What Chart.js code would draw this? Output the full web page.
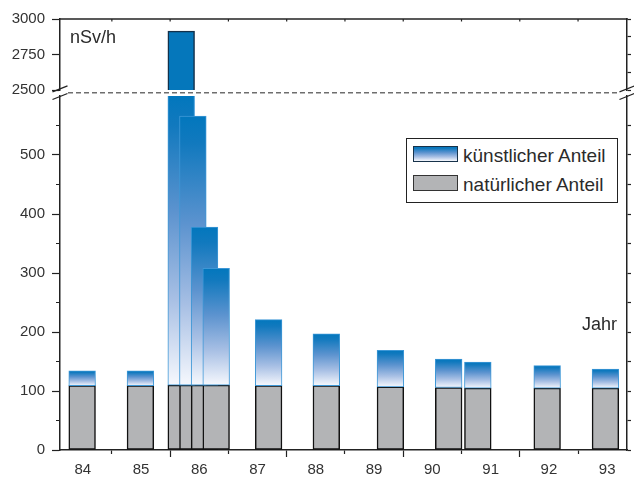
<!DOCTYPE html>
<html>
<head>
<meta charset="utf-8">
<script src="https://cdn.jsdelivr.net/npm/chart.js@4/dist/chart.umd.min.js"></script>
<style>
    html, body { margin: 0; padding: 0; background: #fff; }
    #wrap { position: relative; width: 634px; height: 477px; overflow: hidden;
            font-family: "Liberation Sans", Arial, sans-serif; color: #2b2b2b; }
    #wrap canvas { position: absolute; left: 0; }
    #topChart { top: 0; }
    #lowChart { top: 85px; }
    .note { position: absolute; font-size: 18px; line-height: 18px; white-space: nowrap; }
    #legend { position: absolute; left: 406px; top: 138px; width: 210px; height: 63px;
              border: 1.5px solid #222; background: #fff; }
    #legend .sw { position: absolute; left: 6px; width: 43px; height: 14px; }
    #legend .txt { position: absolute; left: 56px; font-size: 19px; line-height: 19px; white-space: nowrap; }
    .sw.blue { border: 1px solid #17324a;
               background: linear-gradient(#0277bd, #1179be 10%, #5c93cf 40%, #a7bfe4 70%, #f6f8fd); }
    .sw.grey { border: 1px solid #333; background: #b3b4b6; }
</style>
</head>
<body>
<div id="wrap">
    <canvas id="topChart" width="634" height="100"></canvas>
    <canvas id="lowChart" width="634" height="392"></canvas>
    <div class="note" style="left:70px; top:28px;">nSv/h</div>
    <div class="note" style="left:582px; top:315px;">Jahr</div>
    <div id="legend">
        <div class="sw blue" style="top:7px;"></div>
        <div class="txt" style="top:7px;">künstlicher Anteil</div>
        <div class="sw grey" style="top:36px;"></div>
        <div class="txt" style="top:36px;">natürlicher Anteil</div>
    </div>
</div>
<script>
// year labels on the x axis
var years = [84, 85, 86, 87, 88, 89, 90, 91, 92, 93];
// where each measurement sits along the time axis
var samplePos = [84.49, 85.49, 86.19, 86.39, 86.59, 86.79, 87.69, 88.68, 89.78, 90.78, 91.28, 92.47, 93.47];
// natural share and total dose rate (nSv/h)
var natural = [109, 109, 110, 110, 110, 110, 109, 109, 107, 106, 105, 105, 105];
var total = [134, 134, 2915, 566, 378, 308, 221, 197, 169, 154, 149, 143, 137];
// y ticks of the two axis parts
var lowTicks = [0, 50, 100, 150, 200, 250, 300, 350, 400, 450, 500, 550];
var highTicks = [2500, 2625, 2750, 2875, 3000];

var X_MIN = 84.11, X_MAX = 93.84;
var font = { family: '"Liberation Sans", Arial, sans-serif', size: 15 };
var axisCol = '#222', textCol = '#333';

var xTicks = [];
years.forEach(function (y) {
    if (y > years[0]) xTicks.push(y);
    xTicks.push(y + 0.5);
});

var artPoints = samplePos.map(function (p, i) { return { x: p, y: [natural[i], total[i]] }; });
var natPoints = samplePos.map(function (p, i) { return { x: p, y: natural[i] }; });

function fixWidth(w) {
    return function (s) { s.width = w; s.paddingTop = 0; s.paddingBottom = 0; };
}
function fixHeight(h) {
    return function (s) { s.height = h; s.paddingLeft = 0; s.paddingRight = 0; };
}
function setTicks(list) {
    return function (s) { s.ticks = list.map(function (v) { return { value: v }; }); };
}

function blueFill(ctx) {
    var chart = ctx.chart, area = chart.chartArea;
    if (!area || ctx.type !== 'data') return '#0277bd';
    var sc = chart.scales.y, v = ctx.raw.y;
    var top = Math.max(sc.getPixelForValue(v[1]), area.top);
    var bottom = sc.getPixelForValue(v[0]);
    var g = chart.ctx.createLinearGradient(0, top, 0, bottom);
    g.addColorStop(0, '#0277bd');
    g.addColorStop(0.1, '#1179be');
    g.addColorStop(0.4, '#5c93cf');
    g.addColorStop(0.7, '#a7bfe4');
    g.addColorStop(1, '#f6f8fd');
    return g;
}

function yAxis(min, max, ticks, major) {
    return {
        position: 'left', min: min, max: max,
        afterBuildTicks: setTicks(ticks),
        afterFit: fixWidth(60),
        border: { color: axisCol, width: 1.5 },
        grid: {
            drawOnChartArea: false, tickLength: 8, tickColor: axisCol, tickWidth: 1.2,
            tickBorderDash: function (c) {
                return c.tick && c.tick.value % major ? [0, 4, 4, 100] : [];
            }
        },
        ticks: {
            padding: 7, color: textCol, font: font,
            callback: function (v) { return v % major ? '' : v; }
        }
    };
}

function rightAxis(min, max, ticks) {
    return {
        position: 'right', min: min, max: max,
        afterBuildTicks: setTicks(ticks),
        afterFit: fixWidth(7),
        border: { color: axisCol, width: 1.5 },
        grid: { drawOnChartArea: false, tickLength: 4, tickColor: axisCol, tickWidth: 1.2 },
        ticks: { display: false }
    };
}

// dashed break line plus the // marks on both axes
var breakMarks = {
    id: 'breakMarks',
    afterDraw: function (chart) {
        var c = chart.ctx, a = chart.chartArea, y = a.top - 3.3;
        c.save();
        c.strokeStyle = '#6e6e6e';
        c.lineWidth = 1.5;
        c.setLineDash([5, 3]);
        c.beginPath();
        c.moveTo(a.left + 8, y);
        c.lineTo(a.right - 9, y);
        c.stroke();
        c.setLineDash([]);
        c.strokeStyle = axisCol;
        c.lineWidth = 1.2;
        [a.left, a.right].forEach(function (x) {
            [-3.8, 3.8].forEach(function (d) {
                c.beginPath();
                c.moveTo(x - 7.5, y + d + 3);
                c.lineTo(x + 7.5, y + d - 3);
                c.stroke();
            });
        });
        c.restore();
    }
};

// top edge of the frame with small inner ticks at the year boundaries
var topFrame = {
    id: 'topFrame',
    afterDraw: function (chart) {
        var c = chart.ctx, a = chart.chartArea, sx = chart.scales.x;
        c.save();
        c.strokeStyle = axisCol;
        c.lineWidth = 1.5;
        c.beginPath();
        c.moveTo(a.left - 0.75, a.top);
        c.lineTo(a.right + 0.75, a.top);
        c.stroke();
        c.lineWidth = 1.2;
        years.slice(1).forEach(function (yr) {
            var x = sx.getPixelForValue(yr);
            c.beginPath();
            c.moveTo(x, a.top);
            c.lineTo(x, a.top + 2.5);
            c.stroke();
        });
        c.restore();
    }
};

Chart.defaults.font.family = font.family;
Chart.defaults.animation = false;

var common = {
    responsive: false,
    animation: false,
    plugins: { legend: { display: false }, tooltip: { enabled: false } }
};

new Chart(document.getElementById('lowChart'), {
    type: 'bar',
    data: {
        datasets: [{
            label: 'künstlicher Anteil',
            data: artPoints,
            backgroundColor: blueFill,
            borderColor: '#3d97d6',
            borderWidth: 1,
            borderSkipped: false,
            barThickness: 26.7,
            grouped: false,
            clip: 0
        }, {
            label: 'natürlicher Anteil',
            data: natPoints,
            backgroundColor: '#b3b4b6',
            borderColor: '#111',
            borderWidth: 1.5,
            borderSkipped: false,
            barThickness: 26.7,
            grouped: false,
            clip: 0
        }]
    },
    options: Object.assign({}, common, {
        layout: { padding: { top: 11, left: 0, right: 0, bottom: 0 } },
        scales: {
            x: {
                type: 'linear', position: 'bottom', min: X_MIN, max: X_MAX, offset: false,
                afterBuildTicks: setTicks(xTicks),
                afterFit: fixHeight(27),
                border: { color: axisCol, width: 1.5 },
                grid: {
                    offset: false, drawOnChartArea: false, tickLength: 7, tickWidth: 1.2,
                    tickColor: function (c) {
                        return c.tick && c.tick.value % 1 === 0 ? axisCol : 'rgba(0,0,0,0)';
                    },
                    tickBorderDash: function (c) {
                        return c.tick && c.tick.value % 2 === 1 ? [3.5, 20] : [];
                    }
                },
                ticks: {
                    autoSkip: false, maxRotation: 0, minRotation: 0, padding: 4,
                    color: textCol, font: font,
                    callback: function (v) { return v % 1 ? String(Math.floor(v)) : ''; }
                }
            },
            y: yAxis(0, 600, lowTicks, 100),
            yr: rightAxis(0, 600, lowTicks)
        }
    }),
    plugins: [breakMarks]
});

new Chart(document.getElementById('topChart'), {
    type: 'bar',
    data: {
        datasets: [{
            label: 'künstlicher Anteil',
            data: artPoints,
            backgroundColor: '#0577bb',
            borderColor: '#12304a',
            borderWidth: 1.5,
            borderSkipped: 'start',
            barThickness: 26.7,
            grouped: false,
            clip: 0
        }]
    },
    options: Object.assign({}, common, {
        layout: { padding: { top: 19, left: 0, right: 0, bottom: 10 } },
        scales: {
            x: { type: 'linear', display: false, min: X_MIN, max: X_MAX, offset: false },
            y: yAxis(2500, 3000, highTicks, 250),
            yr: rightAxis(2500, 3000, highTicks)
        }
    }),
    plugins: [topFrame]
});
</script>
</body>
</html>
